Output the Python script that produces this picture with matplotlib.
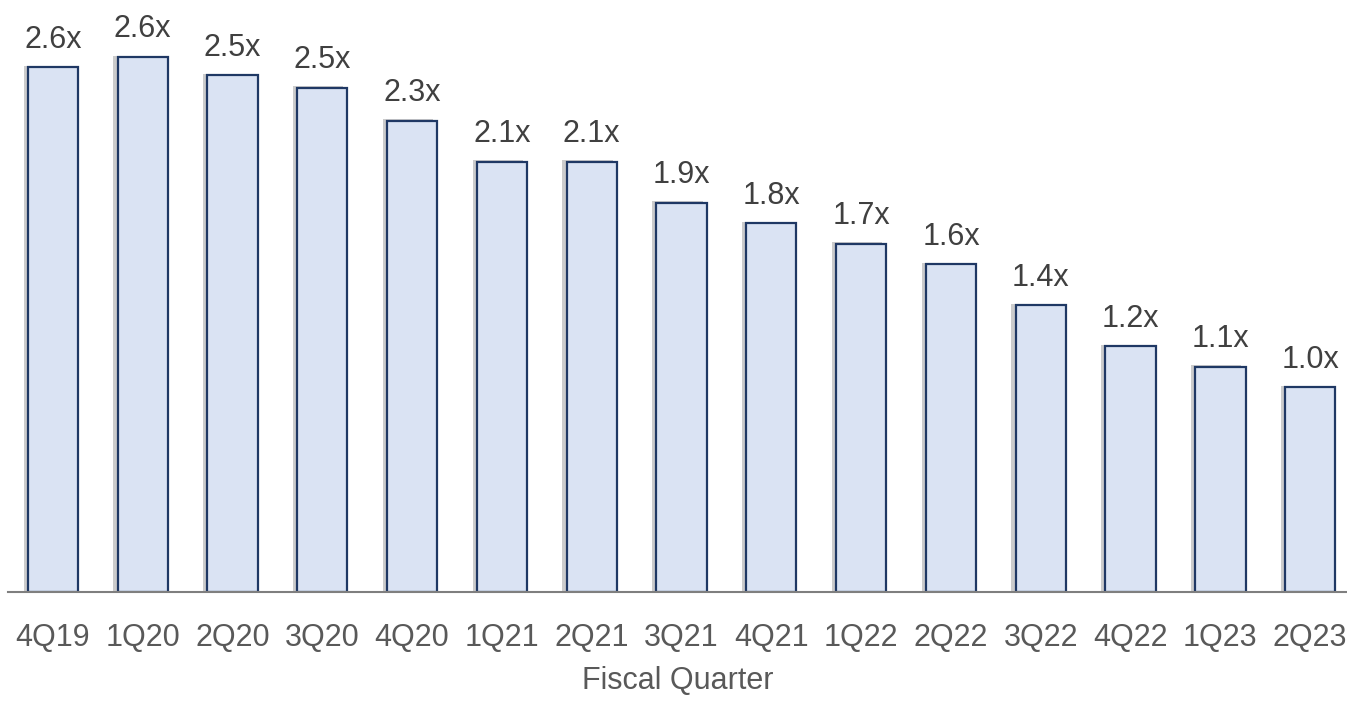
import matplotlib
matplotlib.use("Agg")
import matplotlib.pyplot as plt
import matplotlib.patheffects as pe
from matplotlib import font_manager
import numpy as np

# leverage ratio by fiscal quarter
quarters = ["4Q19", "1Q20", "2Q20", "3Q20", "4Q20", "1Q21", "2Q21", "3Q21",
            "4Q21", "1Q22", "2Q22", "3Q22", "4Q22", "1Q23", "2Q23"]
values = [2.56, 2.61, 2.52, 2.46, 2.3, 2.1, 2.1, 1.9,
          1.8, 1.7, 1.6, 1.4, 1.2, 1.1, 1.0]

names = set(f.name for f in font_manager.fontManager.ttflist)
print(sorted(n for n in names if 'Liberation' in n or 'Narrow' in n or 'Condensed' in n))
if 'Liberation Sans Narrow' in names:
    plt.rcParams['font.family'] = ['Liberation Sans Narrow', 'DejaVu Sans']
    fs = 25
else:
    plt.rcParams['font.family'] = ['Liberation Sans', 'DejaVu Sans']
    fs = 22

fig = plt.figure(figsize=(13.47, 7.03), dpi=100)
ax = fig.add_axes([8 / 1347, 1 - 592 / 703, 1339 / 1347, 592 / 703])

x = np.arange(len(quarters))
bars = ax.bar(x, values, width=0.56, color='#DAE3F3', edgecolor='#1F3864',
              linewidth=1.6, zorder=3)
for b in bars:
    b.set_path_effects([pe.SimplePatchShadow(offset=(-3, 1), shadow_rgbFace='#000000', alpha=0.2),
                        pe.Normal()])

for xi, v in zip(x, values):
    ax.annotate("%.1fx" % v, (xi, v), xytext=(0, 9), textcoords='offset points',
                ha='center', va='bottom', fontsize=fs, color='#404040')

ax.set_xlim(-0.5, 14.41)
ax.set_ylim(0, 2.888)
ax.set_xticks(x)
ax.set_xticklabels(quarters, fontsize=fs, color='#595959')
ax.tick_params(axis='x', length=0, pad=22)
ax.set_yticks([])
for s in ['top', 'right', 'left']:
    ax.spines[s].set_visible(False)
ax.spines['bottom'].set_color('#7F7F7F')
ax.spines['bottom'].set_linewidth(1.5)
ax.spines['bottom'].set_zorder(4)
ax.set_xlabel("Fiscal Quarter", fontsize=fs, color='#595959', labelpad=10)

fig.savefig("out.png", dpi=100)
